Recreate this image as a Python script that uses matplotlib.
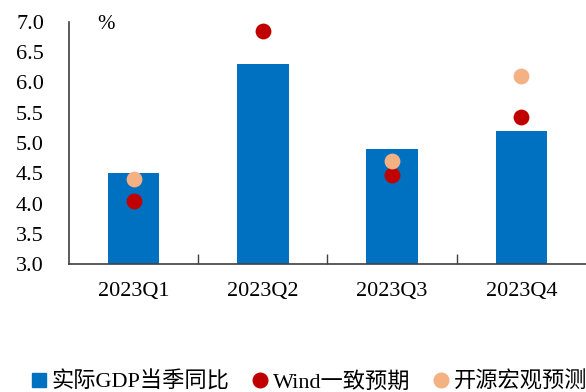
import matplotlib.pyplot as plt
from matplotlib.lines import Line2D
import numpy as np

quarters = ['2023Q1', '2023Q2', '2023Q3', '2023Q4']
actual_gdp = [4.5, 6.3, 4.9, 5.2]
wind_forecast = [4.04, 6.85, 4.47, 5.43]
ky_forecast = [4.40, None, 4.70, 6.10]

blue = '#0070C0'
red = '#C00000'
peach = '#F4B183'

plt.rcParams['font.family'] = ['Liberation Serif', 'Noto Sans CJK SC']

fig = plt.figure(figsize=(5.86, 3.92), dpi=100)
ax = fig.add_axes([0.1177, 0.3265, 0.8823, 0.6174])

x = np.arange(len(quarters))
ax.bar(x, actual_gdp, 0.4, color=blue, zorder=2)
ax.scatter(x, wind_forecast, s=130, color=red, zorder=3, linewidths=0)
kx = [i for i, v in enumerate(ky_forecast) if v is not None]
kv = [v for v in ky_forecast if v is not None]
ax.scatter(kx, kv, s=130, color=peach, zorder=3, linewidths=0)

ax.set_xlim(-0.5, 3.5)
ax.set_ylim(3.0, 7.0)
yt = np.arange(3.0, 7.01, 0.5)
ax.set_yticks(yt)
ax.set_yticklabels([f'{v:.1f}' for v in yt])
ax.set_xticks(x)
ax.set_xticklabels(quarters)
ax.set_xticks([0.5, 1.5, 2.5], minor=True)
ax.set_yticks([7.0], minor=True)
ax.tick_params(axis='both', which='major', length=0, labelsize=16, colors='black')
ax.tick_params(axis='x', which='major', pad=13)
ax.tick_params(axis='y', which='major', pad=18)
ax.tick_params(axis='both', which='minor', direction='in', length=7, width=1, color='#404040')

for s in ['top', 'right']:
    ax.spines[s].set_visible(False)
for s in ['left', 'bottom']:
    ax.spines[s].set_color('#404040')
    ax.spines[s].set_linewidth(1.2)

ax.text(0.055, 1.03, '%', transform=ax.transAxes, fontsize=15, va='top', ha='left')

handles = [
    Line2D([], [], marker='s', linestyle='none', color=blue, markersize=10),
    Line2D([], [], marker='o', linestyle='none', color=red, markersize=10.5),
    Line2D([], [], marker='o', linestyle='none', color=peach, markersize=10.5),
]
labels = ['实际GDP当季同比', 'Wind一致预期', '开源宏观预测']
fig.legend(handles, labels, loc='center', bbox_to_anchor=(0.527, 0.025), ncol=3,
           frameon=False, fontsize=16, handletextpad=0.2, columnspacing=1.0,
           handlelength=0.75, borderaxespad=0.0, borderpad=0.0)

plt.savefig('out.png', dpi=100)
